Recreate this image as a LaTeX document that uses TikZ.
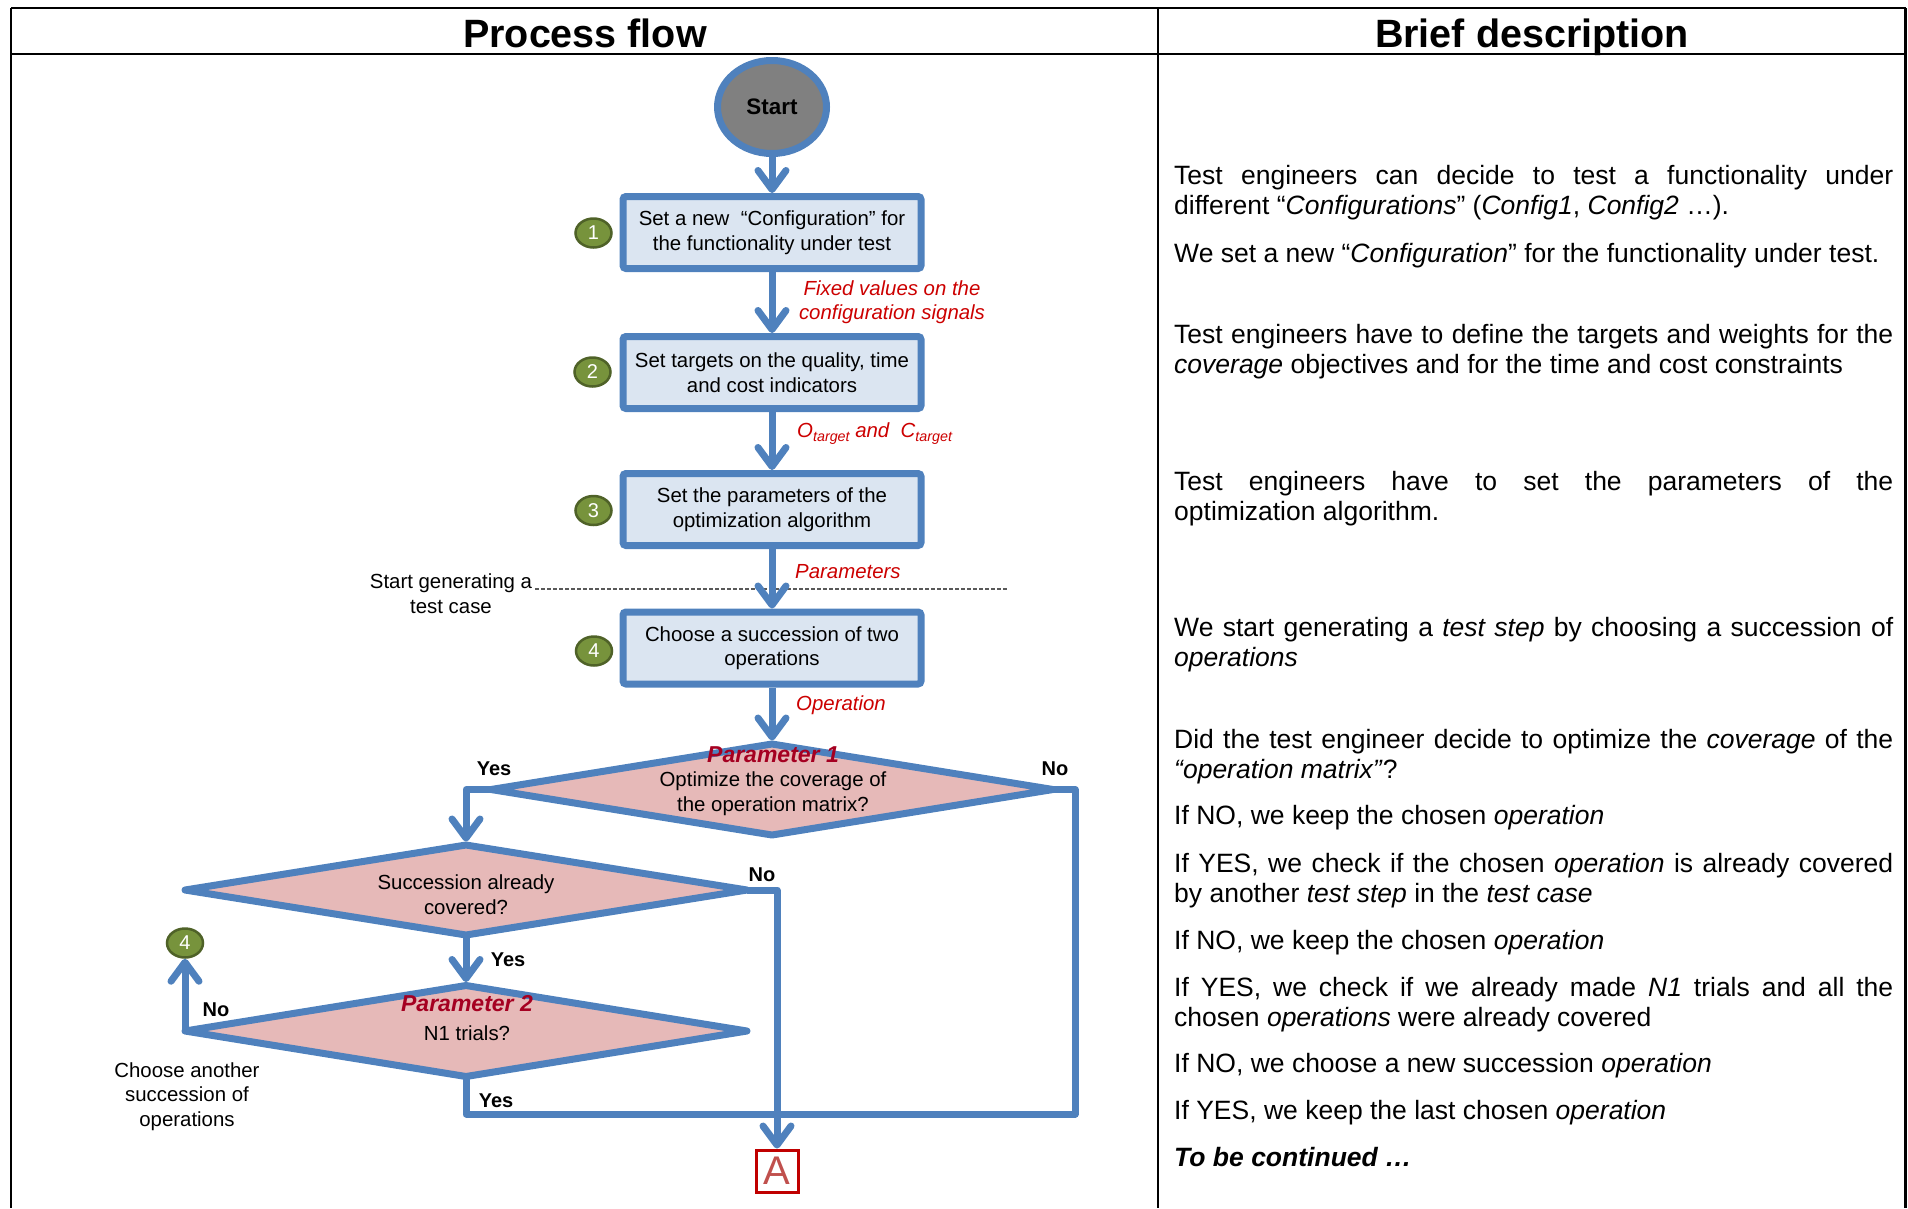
\documentclass[tikz,border=0pt]{standalone}
\usepackage{fontspec}
\setmainfont{Liberation Sans}
\usetikzlibrary{shapes.geometric,arrows.meta}
\definecolor{flowblue}{RGB}{79,129,189}
\definecolor{boxfill}{RGB}{219,229,241}
\definecolor{diafill}{RGB}{230,185,184}
\definecolor{badgefill}{RGB}{119,147,60}
\definecolor{badgeline}{RGB}{79,98,40}
\definecolor{labred}{RGB}{204,0,0}
\definecolor{parred}{RGB}{165,0,33}
\definecolor{abordr}{RGB}{192,0,0}
\definecolor{atext}{RGB}{192,80,77}
\definecolor{startgray}{RGB}{128,128,128}
\newcommand{\fsHead}{\fontsize{39.5}{45}\selectfont\bfseries}
\newcommand{\fsBox}{\fontsize{20.4}{24.5}\selectfont}
\newcommand{\fsDesc}{\fontsize{26.5}{30}\selectfont}
\newcommand{\subtxt}[1]{\raisebox{-4pt}{\fontsize{14.3}{15}\selectfont #1}}
\tolerance=9999
\hyphenpenalty=10000
\exhyphenpenalty=10000
\emergencystretch=20pt
\begin{document}
\begin{tikzpicture}[x=1pt,y=-1pt,
  tbl/.style={line width=2.5pt,black},
  dotline/.style={line width=1.2pt,dash pattern=on 3.5pt off 2.5pt,black!65},
  arr/.style={flowblue,line width=7pt,line join=round,-{Straight Barb[round,length=19pt,width=28pt]}},
  conn/.style={flowblue,line width=7pt,line join=round},
  stepbox/.style={rectangle,rounded corners=3pt,draw=flowblue,line width=7pt,fill=boxfill,minimum width=298pt,minimum height=72pt,inner sep=0pt,align=center,font=\fsBox},
  startnode/.style={ellipse,draw=flowblue,line width=7pt,fill=startgray,minimum width=109pt,minimum height=93pt,inner sep=0pt,font=\fontsize{22.4}{26}\selectfont\bfseries},
  decision/.style={diamond,draw=flowblue,line width=7pt,line join=round,fill=diafill,minimum width=562pt,minimum height=91pt,inner sep=0pt,outer sep=0pt},
  badge/.style={ellipse,draw=badgeline,line width=2.5pt,fill=badgefill,minimum width=36pt,minimum height=29pt,inner sep=0pt,text=white,font=\fontsize{20}{20}\selectfont},
  abox/.style={rectangle,draw=abordr,line width=3pt,minimum size=42pt,inner sep=0pt,text=atext,font=\fontsize{40}{40}\selectfont},
  head/.style={font=\fsHead,text height=28.3pt,text depth=0pt,inner sep=0pt},
  lbl/.style={font=\fsBox,text height=14.6pt,text depth=0pt,inner sep=0pt},
  note/.style={font=\fsBox,align=center,inner sep=0pt},
  yn/.style={font=\fontsize{20}{24}\selectfont\bfseries,text height=14.4pt,text depth=0pt,inner sep=0pt},
  partxt/.style={font=\fontsize{23}{26}\selectfont\bfseries\itshape,text=parred,text height=16.5pt,text depth=0pt,inner sep=0pt},
  redlbl/.style={font=\fsBox\itshape,text=labred,align=center,inner sep=0pt},
  redlbla/.style={font=\fsBox\itshape,text=labred,text height=14.6pt,text depth=0pt,inner sep=0pt,anchor=west},
  desc/.style={anchor=north west,text width=719pt,align=justify,inner sep=0pt,font=\fsDesc}
]
\useasboundingbox (0,0) rectangle (1908,1208);

% table frame
\draw[tbl] (11,8) -- (1905.5,8);
\draw[tbl] (11,54) -- (1905.5,54);
\draw[tbl] (11,8) -- (11,1208);
\draw[tbl] (1158,8) -- (1158,1208);
\draw[tbl] (1905.5,8) -- (1905.5,1208);
\node[head] (h1) at (585,33) {Process flow};
\node[head] (h2) at (1532,33) {Brief description};

% dotted separator
\coordinate (dl1) at (535,589);
\coordinate (dl2) at (1008,589);
\draw[dotline] (dl1) -- (dl2);
\node[note] (sg) at (451,593.5) {Start generating a\\test case};

% main steps
\node[startnode] (start) at (772,107) {Start};
\node[stepbox] (b1) at (772,232.5) {Set a new \ “Configuration” for\\the functionality under test};
\node[stepbox] (b2) at (772,372.5) {Set targets on the quality, time\\and cost indicators};
\node[stepbox] (b3) at (772,509.5) {Set the parameters of the\\optimization algorithm};
\node[stepbox] (b4) at (772,648) {Choose a succession of two\\operations};

% badges
\node[badge] (n1) at (593.5,233) {1};
\node[badge] (n2) at (592.5,372) {2};
\node[badge] (n3) at (593.5,510.5) {3};
\node[badge] (n4) at (594,651) {4};
\node[badge] (n5) at (185,943) {4};

% flow labels
\node[redlbl] (lb1) at (892,302) {Fixed values on the\\configuration signals};
\node[redlbla] (lb2) at (797,430) {O\subtxt{target} and\ \ C\subtxt{target}};
\node[redlbla] (lb3) at (795,571) {Parameters};
\node[redlbla] (lb4) at (796,703) {Operation};

% decisions
\node[decision] (d1) at (772,789.5) {};
\node[decision,minimum height=90pt] (d2) at (466,890) {};
\node[decision] (d3) at (466,1031) {};
\node[partxt] (p1) at (773,754) {Parameter 1};
\node[note] (q1) at (773,793.5) {Optimize the coverage of\\the operation matrix?};
\node[note] (q2) at (466,894.5) {Succession already\\covered?};
\node[partxt] (p2) at (467,1003) {Parameter 2};
\node[lbl] (q3) at (467,1033) {N1 trials?};

% yes / no
\node[yn] (y1) at (494,768) {Yes};
\node[yn] (no1) at (1055,768) {No};
\node[yn] (no2) at (762,874) {No};
\node[yn] (y2) at (508,959) {Yes};
\node[yn] (no3) at (216,1009) {No};
\node[yn] (y3) at (496,1100) {Yes};
\node[note] (ca) at (187,1096.5) {Choose another\\succession of\\operations};

% connector A
\node[abox] (A) at (777,1171) {A};

% connectors
\draw[arr] (start) -- (b1);
\draw[arr] (b1) -- (b2);
\draw[arr] (b2) -- (b3);
\draw[arr] (b3) -- (b4);
\draw[arr] (b4) -- ([yshift=3.5pt]d1.north);
\draw[arr] (d1.west) -| ([yshift=3.5pt]d2.north);
\draw[arr] (d2.south) -- ([yshift=3.5pt]d3.north);
\draw[arr] (d3.west) -- (n5);
\coordinate (join) at (777,1114);
\coordinate (r1) at (1075,789.5);
\draw[conn] (d1.east) -- (r1) |- (join);
\draw[conn] (d2.east) -| (join);
\draw[conn] (d3.south) |- (join);
\draw[arr] (join) -- (A);

% description column
\node[desc] (t1) at (1174,163.5) {\noindent\strut Test engineers can decide to test a functionality under\linebreak different “\textit{Configurations}” (\textit{Config1}, \textit{Config2} …).};
\node[desc] (t2) at (1174,241.5) {\noindent\strut We set a new “\textit{Configuration}” for the functionality under test.};
\node[desc] (t3) at (1174,322.5) {\noindent\strut Test engineers have to define the targets and weights for the\linebreak \textit{coverage} objectives and for the time and cost constraints};
\node[desc] (t4) at (1174,469.5) {\noindent\strut Test engineers have to set the parameters of the\linebreak optimization algorithm.};
\node[desc] (t5) at (1174,615.5) {\noindent\strut We start generating a \textit{test step} by choosing a succession of\linebreak \textit{operations}};
\node[desc] (t6) at (1174,727) {\noindent\strut Did the test engineer decide to optimize the \textit{coverage} of the\linebreak \textit{“operation matrix”}?};
\node[desc] (t7) at (1174,803.5) {\noindent\strut If NO, we keep the chosen \textit{operation}};
\node[desc] (t8) at (1174,851.5) {\noindent\strut If YES, we check if the chosen \textit{operation} is already covered\linebreak by another \textit{test step} in the \textit{test case}};
\node[desc] (t9) at (1174,928) {\noindent\strut If NO, we keep the chosen \textit{operation}};
\node[desc] (t10) at (1174,975) {\noindent\strut If YES, we check if we already made \textit{N1} trials and all the\linebreak chosen \textit{operations} were already covered};
\node[desc] (t11) at (1174,1051.5) {\noindent\strut If NO, we choose a new succession \textit{operation}};
\node[desc] (t12) at (1174,1098.5) {\noindent\strut If YES, we keep the last chosen \textit{operation}};
\node[desc] (t13) at (1174,1145.5) {\noindent\strut \textbf{\textit{To be continued …}}};
\end{tikzpicture}
\end{document}
